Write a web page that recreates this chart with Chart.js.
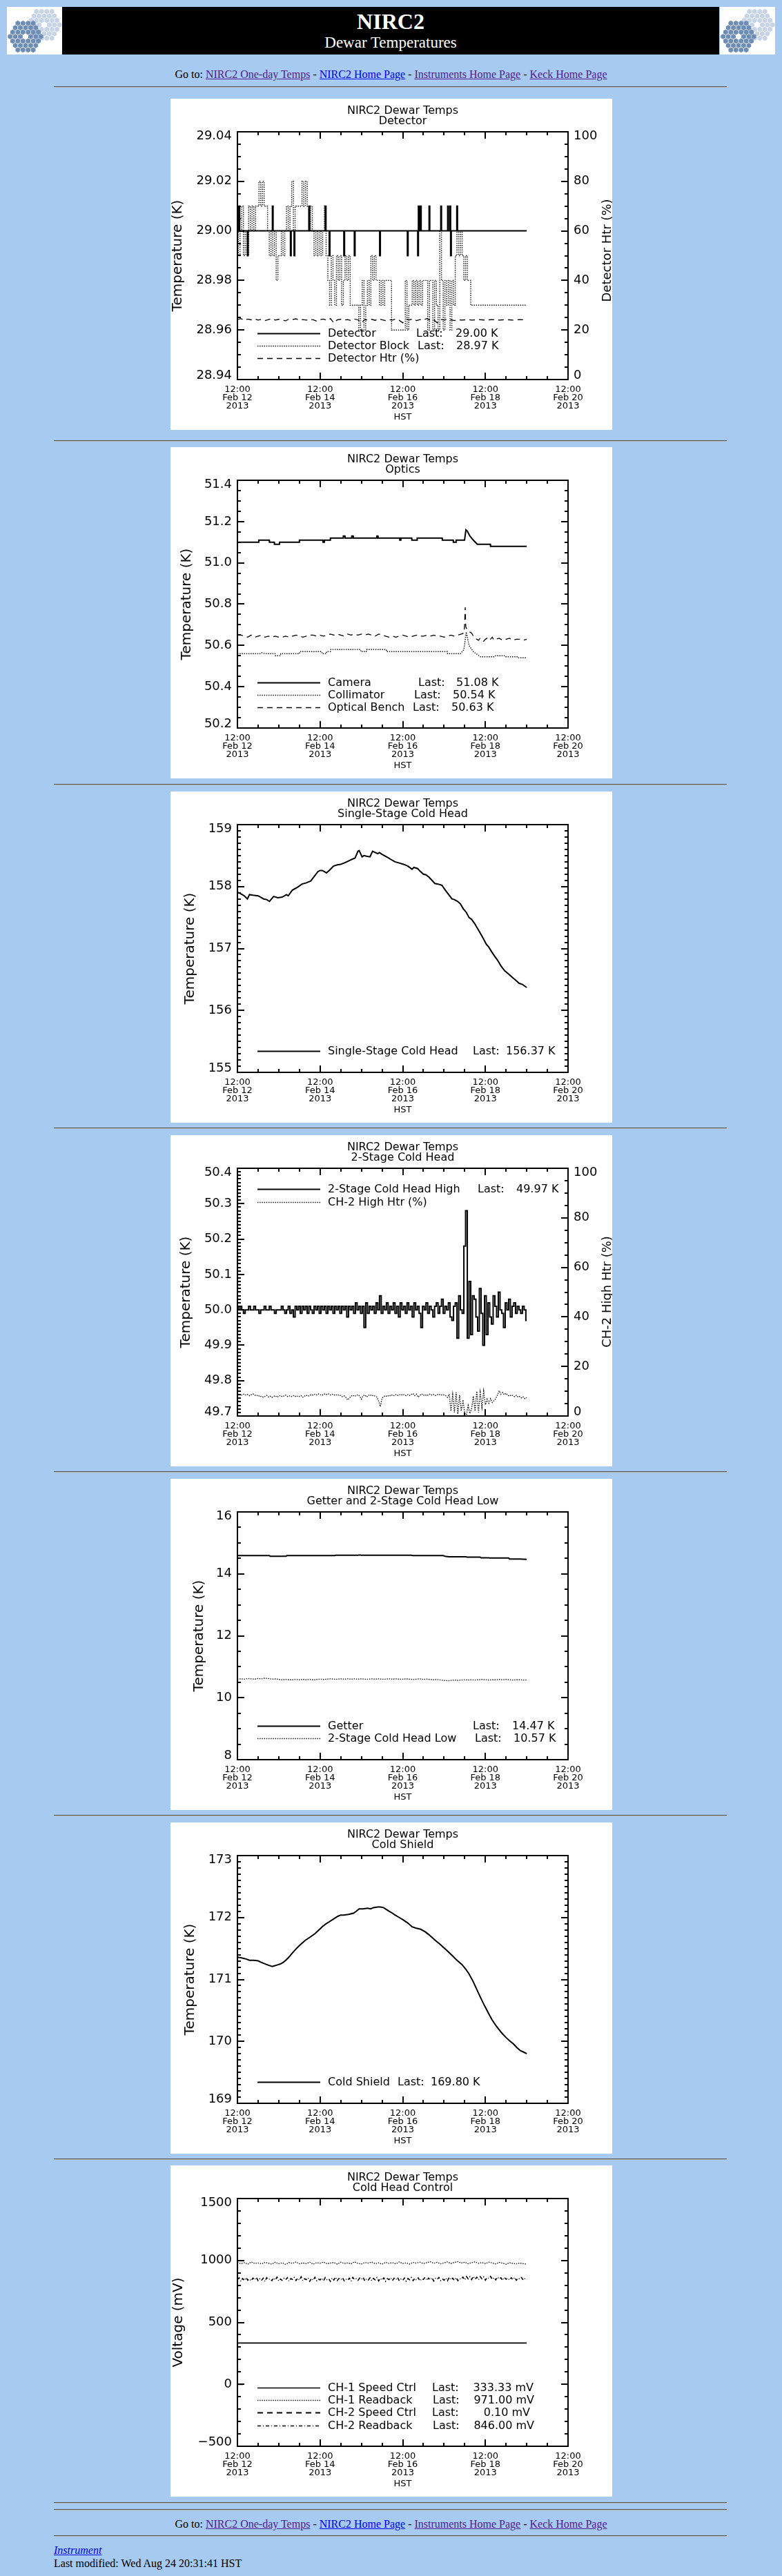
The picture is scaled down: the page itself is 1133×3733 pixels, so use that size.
<!DOCTYPE html>
<html>
<head>
<meta charset="utf-8">
<title>NIRC2 Dewar Temperatures</title>
<script src="https://cdn.jsdelivr.net/npm/chart.js@4.4.1/dist/chart.umd.min.js"></script>
<style>
  html, body { margin:0; padding:0; }
  body { background:#A6CAF0; width:1133px; height:3733px; position:relative; overflow:hidden; font-family:'Liberation Serif','Times New Roman',serif; color:#000; }
  .abs { position:absolute; }
  .hr { position:absolute; left:78px; width:975px; height:0; border-top:1px solid #555; border-bottom:1px solid #b8b8b8; }
  .panel { position:absolute; left:247px; background:#fff; }
  .nav { position:absolute; left:0; width:1133px; text-align:center; font-size:16px; line-height:20px; }
  a { text-decoration:underline; }
  a.v { color:#551A8B; }
  a.n { color:#0000EE; }
</style>
</head>
<body>
<canvas id="logoL" class="abs" width="80" height="69" style="left:10px;top:10px"></canvas>
<div class="abs" style="left:90px;top:10px;width:952px;height:69px;background:#000;color:#fff;text-align:center">
  <div class="abs" style="left:0;width:952px;top:3px;font-size:32px;line-height:36px;font-weight:bold">NIRC2</div>
  <div class="abs" style="left:0;width:952px;top:39px;font-size:23px;line-height:26px">Dewar Temperatures</div>
</div>
<canvas id="logoR" class="abs" width="80" height="69" style="left:1043px;top:10px"></canvas>

<div class="nav" style="top:98px">Go to: <a class="v" href="#">NIRC2 One-day Temps</a> - <a class="n" href="#">NIRC2 Home Page</a> - <a class="v" href="#">Instruments Home Page</a> - <a class="v" href="#">Keck Home Page</a></div>
<div class="hr" style="top:125px"></div>

<canvas id="c1" class="panel" width="640" height="480" style="top:143px"></canvas>
<div class="hr" style="top:638px"></div>
<canvas id="c2" class="panel" width="640" height="480" style="top:648px"></canvas>
<div class="hr" style="top:1136px"></div>
<canvas id="c3" class="panel" width="640" height="480" style="top:1147px"></canvas>
<div class="hr" style="top:1634px"></div>
<canvas id="c4" class="panel" width="640" height="480" style="top:1645px"></canvas>
<div class="hr" style="top:2132px"></div>
<canvas id="c5" class="panel" width="640" height="480" style="top:2143px"></canvas>
<div class="hr" style="top:2630px"></div>
<canvas id="c6" class="panel" width="640" height="480" style="top:2641px"></canvas>
<div class="hr" style="top:3128px"></div>
<canvas id="c7" class="panel" width="640" height="480" style="top:3138px"></canvas>

<div class="hr" style="top:3626px"></div>
<div class="hr" style="top:3636px"></div>
<div class="nav" style="top:3648px">Go to: <a class="v" href="#">NIRC2 One-day Temps</a> - <a class="n" href="#">NIRC2 Home Page</a> - <a class="v" href="#">Instruments Home Page</a> - <a class="v" href="#">Keck Home Page</a></div>
<div class="hr" style="top:3674px"></div>
<div class="abs" style="left:78px;top:3686px;font-size:16px;line-height:20px;font-style:italic"><a class="n" href="#">Instrument</a></div>
<div class="abs" style="left:78px;top:3705px;font-size:16px;line-height:20px">Last modified: Wed Aug 24 20:31:41 HST</div>

<script>
// ---------------- shared axis text ----------------
const chartTitle = 'NIRC2 Dewar Temps';
const xAxisTitle = 'HST';
const xTickLabels = [
  ['12:00', 'Feb 12', '2013'],
  ['12:00', 'Feb 14', '2013'],
  ['12:00', 'Feb 16', '2013'],
  ['12:00', 'Feb 18', '2013'],
  ['12:00', 'Feb 20', '2013']
];
// x values are hours after 12:00 Feb 12 2013 (HST)

// ---------------- Chart 1: Detector ----------------
const detectorT = [0, 0.5, 0.8, 1.3, 5.8, 6.2, 20.3, 20.7, 30.8, 31.2, 32.9, 33.3, 41.5, 41.9, 51.0, 51.4, 53.3, 53.7, 61.8, 62.2, 67.9, 68.3, 82.6, 83.0, 98.7, 99.1, 104.7, 105.1, 105.5, 106.3, 106.7, 111.3, 111.7, 118.1, 118.5, 122.1, 122.5, 123.4, 123.8, 124.2, 127.4, 127.8, 168];
const detectorV = [29.01, 29.00, 29.01, 29.00, 28.99, 29.00, 29.01, 29.00, 28.99, 29.00, 28.99, 29.00, 29.01, 29.00, 29.01, 29.00, 28.99, 29.00, 28.99, 29.00, 28.99, 29.00, 28.99, 29.00, 28.99, 29.00, 28.99, 29.01, 29.00, 29.01, 29.00, 29.01, 29.00, 29.01, 29.00, 29.01, 29.00, 29.01, 28.99, 29.00, 29.01, 29.00, 29.00];
// hourly, hour 0..168
const detectorBlock = [
  29.00, 28.99, 29.00, 29.01, 28.99, 29.00, 28.99, 29.01, 29.00, 29.01,
  29.00, 29.01, 29.01, 29.02, 29.01, 29.02, 29.01, 29.01, 29.00, 28.99,
  29.00, 28.99, 29.00, 28.98, 28.99, 28.99, 29.00, 28.99, 29.00, 29.01,
  29.00, 29.01, 29.02, 29.00, 29.01, 29.01, 29.01, 29.01, 29.02, 29.01,
  29.02, 29.01, 29.00, 29.01, 29.00, 28.99, 29.00, 28.99, 29.00, 28.99,
  29.00, 29.01, 28.99, 28.98, 28.97, 28.99, 28.98, 28.97, 28.99, 28.98,
  28.99, 28.97, 28.98, 28.99, 28.98, 28.99, 28.97, 28.97, 28.97, 28.97,
  28.97, 28.96, 28.97, 28.98, 28.96, 28.97, 28.98, 28.97, 28.99, 28.98,
  28.99, 28.98, 28.98, 28.97, 28.98, 28.97, 28.98, 28.98, 28.98, 28.98,
  28.96, 28.96, 28.96, 28.96, 28.96, 28.96, 28.96, 28.96, 28.98, 28.96,
  28.97, 28.97, 28.98, 28.97, 28.98, 28.97, 28.98, 28.97, 28.98, 28.98,
  28.98, 28.96, 28.98, 28.98, 28.96, 28.98, 28.97, 28.96, 29.00, 28.98,
  28.96, 28.98, 28.97, 28.98, 28.96, 28.98, 28.97, 28.99, 29.00, 28.99,
  29.00, 28.99, 28.98, 28.99, 28.98, 28.98, 28.97, 28.97, 28.97, 28.97,
  28.97, 28.97, 28.97, 28.97, 28.97, 28.97, 28.97, 28.97, 28.97, 28.97,
  28.97, 28.97, 28.97, 28.97, 28.97, 28.97, 28.97, 28.97, 28.97, 28.97,
  28.97, 28.97, 28.97, 28.97, 28.97, 28.97, 28.97, 28.97, 28.97
];
// every 2 hours, hour 0..168 (percent)
const detectorHtr = [
  24.2, 24.6, 23.9, 24.4, 24.1, 24.5, 24.0, 24.3, 23.8, 24.2,
  24.6, 24.0, 24.3, 24.1, 23.7, 24.4, 24.2, 24.5, 23.9, 24.2,
  24.0, 24.3, 24.1, 23.6, 24.2, 24.4, 23.9, 24.6, 22.8, 24.1,
  24.3, 24.0, 24.2, 23.8, 24.4, 24.1, 22.9, 24.2, 24.0, 24.3,
  23.9, 24.5, 24.1, 23.8, 24.2, 24.0, 24.4, 23.9, 22.9, 24.3,
  24.1, 24.5, 23.8, 24.2, 24.0, 24.6, 23.9, 24.1, 22.9, 24.3,
  24.0, 24.4, 24.1, 23.8, 24.2, 24.0, 24.1, 24.2, 24.0, 24.1,
  24.2, 24.1, 24.0, 24.1, 24.2, 24.1, 24.0, 24.1, 24.2, 24.1,
  24.0, 24.1, 24.2, 24.1, 24.1
];
const detectorLast = ['29.00 K', '28.97 K'];

// ---------------- Chart 2: Optics ----------------
const camera = [[0,51.10],[12.3,51.10],[12.4,51.11],[18.5,51.11],[18.6,51.10],[21.4,51.10],[21.5,51.09],[24.4,51.09],[24.5,51.10],[35.9,51.10],[36,51.11],[49.6,51.11],[49.7,51.10],[50.4,51.10],[50.5,51.11],[53.9,51.11],[54,51.12],[61.4,51.12],[61.5,51.13],[62.4,51.13],[62.5,51.12],[66.3,51.12],[66.4,51.13],[67.2,51.13],[67.3,51.12],[80.9,51.12],[81,51.13],[81.6,51.13],[81.7,51.12],[94.2,51.12],[94.3,51.11],[94.8,51.11],[94.9,51.12],[101.2,51.12],[101.3,51.11],[104.3,51.11],[104.4,51.12],[118.9,51.12],[119,51.11],[125.3,51.11],[125.4,51.10],[126.9,51.10],[127,51.11],[131.9,51.11],[132.7,51.16],[133.4,51.155],[135,51.13],[137,51.11],[139.3,51.09],[146.9,51.09],[147,51.08],[168,51.08]];
const collimator = [[0,50.56],[13,50.56],[14,50.565],[16,50.56],[21.8,50.56],[22,50.55],[25,50.55],[25.2,50.56],[36,50.56],[36.2,50.57],[49,50.57],[49.2,50.56],[51.6,50.56],[51.8,50.57],[54,50.57],[54.2,50.58],[71.5,50.58],[71.7,50.57],[74.8,50.57],[75,50.58],[86.4,50.58],[86.6,50.57],[121.9,50.57],[122,50.56],[129.6,50.56],[131.5,50.58],[132.9,50.665],[134.5,50.60],[137,50.57],[140.3,50.55],[141.2,50.545],[149.4,50.545],[150,50.55],[155,50.55],[155.5,50.545],[162.7,50.545],[163,50.54],[168,50.54]];
const opticalBench = [[0,50.65],[2,50.65],[4,50.645],[6,50.64],[8,50.65],[10,50.64],[12,50.645],[14,50.65],[16,50.64],[18,50.645],[20,50.64],[22,50.645],[24,50.64],[26,50.64],[28,50.645],[30,50.64],[32,50.645],[34,50.65],[36,50.645],[38,50.64],[40,50.645],[42,50.65],[44,50.65],[46,50.645],[48,50.65],[50,50.645],[52,50.65],[54,50.655],[56,50.65],[58,50.655],[60,50.65],[62,50.645],[64,50.655],[66,50.65],[68,50.655],[70,50.65],[72,50.655],[74,50.65],[76,50.655],[78,50.65],[80,50.645],[82,50.655],[84,50.65],[86,50.645],[88,50.64],[90,50.645],[92,50.64],[94,50.645],[96,50.65],[98,50.645],[100,50.64],[102,50.645],[104,50.65],[106,50.645],[108,50.645],[110,50.65],[112,50.645],[114,50.65],[116,50.645],[118,50.645],[120,50.64],[122,50.645],[124,50.65],[126,50.645],[128,50.65],[130,50.655],[131.6,50.66],[131.9,50.70],[132.3,50.785],[132.6,50.69],[133.2,50.68],[134,50.675],[135,50.665],[136,50.66],[137,50.645],[138,50.635],[139,50.63],[140,50.625],[141,50.635],[142,50.63],[143,50.62],[144,50.63],[145,50.635],[146,50.625],[147,50.63],[148,50.64],[149,50.625],[150,50.63],[152,50.635],[154,50.625],[156,50.63],[158,50.635],[160,50.625],[162,50.63],[164,50.63],[166,50.625],[168,50.63]];
const opticsLast = ['51.08 K', '50.54 K', '50.63 K'];

// ---------------- Chart 3: Single-Stage Cold Head ----------------
const singleStage = [[0,157.91],[1.5,157.89],[2.8,157.87],[4,157.85],[5.8,157.80],[7,157.87],[9,157.86],[12,157.85],[14,157.82],[15.2,157.80],[17,157.79],[18.6,157.76],[19.8,157.80],[21,157.84],[23.5,157.82],[26,157.83],[28.5,157.87],[29.5,157.85],[31.8,157.94],[35,157.99],[37.5,158.04],[40,158.06],[42.6,158.09],[44.5,158.16],[46.7,158.24],[48,158.26],[49.2,158.26],[50.5,158.24],[51.7,158.22],[53.3,158.26],[55.8,158.33],[58,158.35],[60,158.36],[62,158.38],[65,158.42],[66.5,158.44],[68.3,158.46],[70,158.57],[70.7,158.58],[72.4,158.48],[73.5,158.50],[74.9,158.49],[77,158.48],[77.6,158.52],[78.5,158.57],[80,158.55],[81.5,158.53],[82.5,158.55],[84,158.52],[87.3,158.47],[89,158.44],[91.5,158.40],[94,158.38],[96.4,158.36],[99,158.33],[101.4,158.28],[102.5,158.31],[104.7,158.29],[106,158.25],[108,158.20],[109.5,158.19],[111.3,158.15],[113,158.10],[114.6,158.05],[116.5,158.04],[118.8,158.02],[120,157.97],[121.3,157.92],[123,157.86],[124.6,157.80],[126,157.79],[127.9,157.76],[129.5,157.72],[131.2,157.64],[133,157.58],[134.5,157.50],[136,157.47],[137.8,157.40],[139.5,157.32],[141.2,157.24],[143,157.15],[144.5,157.07],[146,157.02],[147.8,156.94],[149.5,156.87],[151.1,156.81],[153,156.72],[155.2,156.64],[157,156.60],[159.4,156.54],[161.5,156.49],[163.5,156.44],[165.5,156.42],[168,156.37]];
const singleStageLast = ['156.37 K'];

// ---------------- Chart 4: 2-Stage Cold Head ----------------
// hourly, hour 0..168
const twoStageHigh = [
  50.01, 50.00, 50.01, 50.00, 49.99, 50.00, 50.00, 50.01, 50.00, 50.00,
  50.01, 50.00, 50.00, 49.99, 50.00, 50.00, 50.01, 50.00, 50.00, 50.01,
  50.00, 50.00, 49.99, 50.00, 50.00, 50.00, 50.01, 50.00, 49.99, 50.00,
  50.01, 49.99, 50.00, 49.98, 50.01, 50.00, 50.01, 49.99, 50.01, 50.00,
  50.01, 49.99, 50.01, 50.00, 49.99, 50.01, 50.00, 50.01, 49.99, 50.01,
  50.00, 50.01, 49.99, 50.01, 50.00, 50.01, 49.99, 50.01, 50.00, 50.01,
  49.99, 50.01, 50.00, 50.01, 49.98, 50.01, 50.00, 50.01, 49.99, 50.02,
  50.00, 50.01, 49.99, 50.01, 49.95, 50.02, 49.99, 50.01, 50.00, 50.01,
  49.99, 50.02, 50.00, 50.04, 49.99, 50.01, 50.00, 50.02, 49.99, 50.01,
  50.00, 50.02, 49.99, 50.01, 49.98, 50.02, 50.00, 50.01, 49.99, 50.02,
  50.00, 50.01, 49.98, 50.02, 50.00, 50.01, 49.99, 49.95, 50.01, 50.00,
  50.02, 49.99, 50.01, 50.00, 49.98, 50.01, 50.02, 49.99, 50.01, 50.03,
  49.99, 50.01, 50.00, 50.02, 49.98, 49.97, 50.01, 50.02, 49.92, 50.04,
  50.00, 49.99, 50.18, 50.28, 49.92, 50.08, 49.93, 50.04, 50.03, 49.98,
  49.94, 50.06, 49.99, 49.90, 50.04, 49.93, 50.02, 49.98, 49.96, 50.04,
  50.01, 49.98, 50.05, 50.00, 49.99, 49.95, 50.02, 50.00, 50.03, 49.98,
  50.01, 50.02, 49.99, 50.01, 50.00, 49.99, 50.01, 50.00, 49.97
];
// hourly, hour 0..168 (percent)
const twoStageHighHtr = [
  8.5, 8.8, 8.3, 8.6, 8.9, 8.4, 8.7, 8.2, 8.6, 8.9,
  8.5, 8.1, 8.4, 7.8, 8.0, 7.6, 7.9, 8.3, 7.7, 8.0,
  7.5, 7.9, 8.2, 7.6, 8.0, 8.3, 7.8, 8.1, 8.4, 7.9,
  8.2, 7.8, 8.0, 8.3, 7.7, 8.1, 7.9, 8.2, 7.6, 8.0,
  8.4, 8.0, 8.3, 8.7, 8.4, 8.8, 8.5, 8.9, 8.6, 8.3,
  8.7, 9.0, 8.6, 8.9, 8.5, 8.8, 8.4, 8.7, 8.3, 8.6,
  8.2, 7.8, 8.1, 7.5, 6.5, 7.2, 8.0, 8.4, 7.9, 8.3,
  8.6, 8.0, 6.8, 8.2, 8.5, 7.7, 8.3, 8.6, 8.1, 8.4,
  8.0, 7.6, 6.0, 3.8, 7.2, 7.9, 8.2, 7.8, 8.4, 8.1,
  8.5, 8.2, 8.6, 8.3, 8.7, 8.4, 8.8, 8.5, 8.2, 8.6,
  8.3, 8.7, 9.1, 8.2, 8.8, 7.6, 8.4, 8.9, 8.3, 8.6,
  8.2, 8.5, 8.9, 8.4, 8.7, 8.3, 8.6, 8.8, 8.4, 8.6,
  8.5, 8.2, 7.5, 8.8, 2.0, 8.6, 1.5, 9.5, 0.8, 8.4,
  2.0, 6.5, 1.0, 0.5, 4.2, 1.0, 3.0, 8.0, 2.0, 10.0,
  1.5, 9.5, 3.5, 10.0, 4.5, 6.8, 5.2, 7.0, 5.5, 6.2,
  7.0, 8.5, 10.2, 8.8, 9.5, 8.6, 9.2, 8.4, 8.0, 8.5,
  8.2, 7.8, 8.3, 7.6, 7.9, 7.3, 7.7, 7.0, 7.4
];
const twoStageLast = ['49.97 K'];

// ---------------- Chart 5: Getter and 2-Stage Cold Head Low ----------------
const getter = [[0,14.59],[18.6,14.59],[19,14.57],[28.3,14.57],[28.7,14.59],[56.5,14.59],[57,14.60],[70,14.60],[70.5,14.61],[71.5,14.61],[72,14.60],[101.2,14.60],[101.6,14.59],[119.4,14.59],[121,14.56],[123,14.55],[132.8,14.55],[133.2,14.54],[141,14.54],[141.4,14.52],[146,14.52],[146.4,14.51],[157.5,14.51],[158,14.48],[164,14.48],[168,14.47]];
// every 2 hours, hour 0..168
const twoStageLow = [
  10.60, 10.61, 10.60, 10.62, 10.61, 10.60, 10.62, 10.61, 10.63, 10.62,
  10.60, 10.61, 10.59, 10.58, 10.59, 10.58, 10.58, 10.59, 10.58, 10.59,
  10.58, 10.59, 10.58, 10.59, 10.60, 10.59, 10.60, 10.61, 10.60, 10.60,
  10.61, 10.60, 10.61, 10.60, 10.61, 10.60, 10.61, 10.60, 10.60, 10.61,
  10.60, 10.61, 10.60, 10.60, 10.61, 10.60, 10.61, 10.60, 10.60, 10.61,
  10.60, 10.59, 10.60, 10.61, 10.59, 10.60, 10.59, 10.58, 10.59, 10.57,
  10.56, 10.55, 10.56, 10.57, 10.56, 10.57, 10.58, 10.57, 10.58, 10.57,
  10.58, 10.59, 10.58, 10.57, 10.58, 10.58, 10.59, 10.58, 10.59, 10.58,
  10.57, 10.58, 10.58, 10.57, 10.57
];
const getterLast = ['14.47 K', '10.57 K'];

// ---------------- Chart 6: Cold Shield ----------------
const coldShield = [[0,171.36],[2,171.35],[3.6,171.34],[5,171.33],[7,171.31],[9.5,171.31],[12,171.30],[13.5,171.28],[15.2,171.26],[18,171.23],[20.2,171.21],[21.5,171.22],[22.7,171.23],[25,171.25],[26.8,171.28],[28.5,171.32],[30.2,171.37],[32,171.43],[34.3,171.50],[36.5,171.56],[39.3,171.63],[42,171.68],[45.1,171.74],[47,171.79],[49.2,171.85],[51,171.89],[53.3,171.93],[56,171.98],[58.3,172.02],[60,172.04],[61.6,172.04],[64.5,172.05],[67.4,172.07],[69,172.10],[70.7,172.14],[73,172.14],[75.5,172.15],[77.4,172.14],[79,172.16],[81.5,172.17],[83,172.17],[84.8,172.16],[86.5,172.13],[88.2,172.10],[90,172.07],[91.5,172.04],[94,172.00],[96.4,171.96],[99,171.91],[101.4,171.85],[103.5,171.83],[106.4,171.81],[109,171.77],[111.3,171.72],[114.5,171.64],[118,171.56],[121.5,171.47],[124.6,171.39],[127.5,171.31],[130.4,171.24],[132.5,171.17],[134.5,171.09],[137,170.96],[139.5,170.81],[141.5,170.69],[143.6,170.57],[145.7,170.46],[147.8,170.35],[150,170.26],[151.9,170.19],[154,170.12],[156.1,170.06],[158,170.01],[160.2,169.96],[162.3,169.90],[164.3,169.85],[166,169.83],[168,169.80]];
const coldShieldLast = ['169.80 K'];

// ---------------- Chart 7: Cold Head Control (mV) ----------------
const ch1Speed = [[0,333.33],[168,333.33]];
// every 2 hours, hour 0..168
const ch1Readback = [
  985, 975, 982, 970, 988, 976, 980, 972, 984, 978,
  971, 986, 974, 981, 969, 983, 977, 988, 973, 980,
  975, 986, 970, 982, 978, 987, 973, 979, 984, 971,
  986, 976, 980, 974, 989, 977, 972, 983, 979, 987,
  974, 981, 970, 985, 977, 982, 973, 988, 976, 980,
  971, 984, 979, 986, 975, 982, 990, 977, 985, 973,
  981, 988, 976, 984, 991, 979, 986, 974, 982, 989,
  977, 983, 975, 986, 980, 972, 984, 978, 970, 982,
  976, 973, 979, 974, 971
];
const ch2Speed = [[0,0.10],[3.5,0.10]];
// hourly, hour 0..168
const ch2Readback = [
  846, 860, 832, 855, 838, 862, 841, 851, 835, 858,
  843, 864, 836, 852, 840, 857, 831, 861, 845, 853,
  837, 859, 842, 866, 834, 850, 839, 856, 844, 861,
  833, 854, 847, 863, 838, 857, 841, 868, 836, 852,
  845, 860, 832, 856, 840, 864, 837, 851, 843, 858,
  835, 862, 846, 853, 831, 859, 842, 866, 838, 855,
  844, 861, 836, 850, 840, 857, 833, 863, 845, 852,
  839, 858, 847, 864, 834, 851, 842, 860, 837, 855,
  843, 862, 835, 856, 841, 859, 832, 853, 846, 861,
  838, 857, 844, 863, 836, 850, 840, 858, 833, 854,
  845, 862, 837, 856, 842, 860, 835, 853, 847, 864,
  839, 858, 843, 861, 834, 855, 846, 863, 838, 852,
  841, 859, 836, 865, 844, 857, 840, 862, 837, 854,
  848, 866, 843, 870, 851, 868, 846, 872, 849, 865,
  844, 869, 852, 867, 841, 863, 855, 871, 847, 862,
  843, 866, 851, 860, 839, 864, 848, 858, 842, 861,
  845, 863, 840, 857, 849, 862, 841, 855, 846
];
const controlLast = ['333.33 mV', '971.00 mV', '0.10 mV', '846.00 mV'];

// ---------------- helpers ----------------
const FONT = "'DejaVu Sans', sans-serif";
const STYLE = {
  solid:   { borderWidth: 2,   borderDash: [] },
  dotted:  { borderWidth: 1.4, borderDash: [1.4, 1.8] },
  dashed:  { borderWidth: 1.3, borderDash: [8, 6] },
  dashdot: { borderWidth: 1.3, borderDash: [5, 3, 1, 3] }
};
function fromPairs(p) { return p.map(q => ({ x: q[0], y: q[1] })); }
function fromSeries(arr, stepHours) { return arr.map((v, i) => ({ x: i * stepHours, y: v })); }
function fromTV(t, v) { return t.map((tt, i) => ({ x: tt, y: v[i] })); }

function ds(label, data, style, extra) {
  return Object.assign({
    label, data, borderColor: '#000', backgroundColor: '#000',
    pointRadius: 0, tension: 0, fill: false, spanGaps: true
  }, STYLE[style], extra || {});
}

function edgeLabels(dec) {
  return function (v, i, ticks) {
    let s = Number(v).toFixed(dec).replace('-', '\u2212');
    if (i === ticks.length - 1) return ['', s];
    if (i === 0) return [s, ''];
    return s;
  };
}

// inward IDL-style tick marks + frame
const idlFrame = {
  id: 'idlFrame',
  afterDatasetsDraw(chart, args, o) {
    const { ctx, chartArea: a, scales } = chart;
    ctx.save();
    ctx.strokeStyle = '#000';
    ctx.lineWidth = 2;
    ctx.setLineDash([]);
    const line = (x1, y1, x2, y2) => { ctx.beginPath(); ctx.moveTo(x1, y1); ctx.lineTo(x2, y2); ctx.stroke(); };
    const walk = (scale, minor, major, fn) => {
      const n = Math.round((scale.max - scale.min) / minor);
      const per = Math.round(major / minor);
      for (let k = 0; k <= n; k++) {
        const p = Math.round(scale.getPixelForValue(scale.min + k * minor));
        fn(p, k % per === 0 ? 10 : 5);
      }
    };
    walk(scales.x, o.xMinor, o.xMajor, (p, len) => { line(p, a.bottom, p, a.bottom - len); line(p, a.top, p, a.top + len); });
    walk(scales.y, o.yMinor, o.yMajor, (p, len) => {
      line(a.left, p, a.left + len, p);
      if (!scales.y2) line(a.right, p, a.right - len, p);
    });
    if (scales.y2) walk(scales.y2, o.y2Minor, o.y2Major, (p, len) => { line(a.right, p, a.right - len, p); });
    ctx.strokeRect(Math.round(a.left), Math.round(a.top), Math.round(a.width), Math.round(a.height));
    ctx.restore();
  }
};

// IDL-style legend drawn inside the plot
const idlLegend = {
  id: 'idlLegend',
  afterDraw(chart, args, o) {
    if (!o.rows) return;
    const ctx = chart.ctx;
    ctx.save();
    ctx.font = '16px ' + FONT;
    ctx.fillStyle = '#000';
    ctx.strokeStyle = '#000';
    ctx.textBaseline = 'middle';
    o.rows.forEach((r, i) => {
      const y = Math.round(o.y0 + i * o.dy) + 0.5;
      const d = chart.data.datasets[r.ds];
      ctx.lineWidth = d.borderWidth;
      ctx.setLineDash(d.borderDash || []);
      ctx.beginPath(); ctx.moveTo(126, y); ctx.lineTo(217, y); ctx.stroke();
      ctx.setLineDash([]);
      ctx.textAlign = 'left';
      ctx.fillText(d.label, 228, y);
      if (r.last) {
        ctx.fillText('Last:', r.lastX, y);
        ctx.textAlign = o.valAlign || 'left';
        ctx.fillText(r.last, r.valX, y);
      }
    });
    ctx.restore();
  }
};

// right-hand axis title, rotated like the left one and cut by the image edge
const rightTitle = {
  id: 'rightTitle',
  afterDraw(chart, args, o) {
    if (!o.text) return;
    const ctx = chart.ctx;
    ctx.save();
    ctx.translate(o.x, o.y);
    ctx.rotate(-Math.PI / 2);
    ctx.font = '18px ' + FONT;
    ctx.fillStyle = '#000';
    ctx.textAlign = 'center';
    ctx.textBaseline = 'alphabetic';
    ctx.fillText(o.text, 0, 0);
    ctx.restore();
  }
};

function makeChart(id, c) {
  const scales = {
    x: {
      type: 'linear', position: 'bottom', min: 0, max: 192,
      grid: { display: false, drawTicks: false }, border: { display: false },
      ticks: {
        stepSize: 12, autoSkip: false, maxRotation: 0, minRotation: 0, padding: 9, color: '#000',
        font: { family: FONT, size: 13, lineHeight: '12px' },
        callback: v => (v % 48 === 0 ? xTickLabels[v / 48] : '')
      },
      title: { display: true, text: xAxisTitle, color: '#000', font: { family: FONT, size: 13, lineHeight: '13px' }, padding: { top: 0, bottom: 11.5 } },
      afterFit: s => { s.height = 73; }
    },
    y: {
      type: 'linear', position: 'left', min: c.y.min, max: c.y.max,
      grid: { display: false, drawTicks: false }, border: { display: false },
      ticks: { stepSize: c.y.step, padding: 8, color: '#000', font: { family: FONT, size: 18, lineHeight: '12px' }, callback: edgeLabels(c.y.dec) },
      title: { display: true, text: c.y.title, color: '#000', font: { family: FONT, size: 20, lineHeight: '20px' }, padding: { top: c.y.titleX - 10, bottom: 0 } },
      afterFit: s => { s.width = 97; }
    }
  };
  if (c.y2) {
    scales.y2 = {
      type: 'linear', position: 'right', min: c.y2.min, max: c.y2.max,
      grid: { display: false, drawTicks: false }, border: { display: false },
      ticks: { stepSize: c.y2.step, padding: 8, color: '#000', font: { family: FONT, size: 18, lineHeight: '12px' }, callback: edgeLabels(0) },
      title: { display: false, text: c.y2.title },
      afterFit: s => { s.width = 64; }
    };
  }
  return new Chart(document.getElementById(id), {
    type: 'line',
    data: { datasets: c.datasets },
    plugins: [idlFrame, idlLegend, rightTitle],
    options: {
      responsive: false, animation: false, parsing: false, normalized: true,
      events: [],
      layout: { padding: { left: 0, top: 0, bottom: 0, right: c.y2 ? 0 : 64 } },
      scales,
      plugins: {
        legend: { display: false },
        tooltip: { enabled: false },
        title: {
          display: true, fullSize: false, text: [chartTitle, c.subtitle], color: '#000',
          font: { family: FONT, size: 16, weight: 'normal', lineHeight: '15px' },
          padding: { top: 10, bottom: 8 }
        },
        idlFrame: { xMinor: 12, xMajor: 48, yMinor: c.y.minor, yMajor: c.y.step, y2Minor: c.y2 ? c.y2.minor : 0, y2Major: c.y2 ? c.y2.step : 0 },
        idlLegend: c.legend,
        rightTitle: c.y2 ? { text: c.y2.title, x: 638, y: c.y2.titleY } : {}
      }
    }
  });
}

Chart.defaults.font.family = FONT;
Chart.defaults.color = '#000';

// 1 Detector
makeChart('c1', {
  subtitle: 'Detector',
  y: { min: 28.94, max: 29.04, step: 0.02, minor: 0.005, dec: 2, title: 'Temperature (K)', titleX: 11 },
  y2: { min: 0, max: 100, step: 20, minor: 5, title: 'Detector Htr (%)', titleY: 220 },
  datasets: [
    ds('Detector', fromTV(detectorT, detectorV), 'solid', { stepped: 'before' }),
    ds('Detector Block', fromSeries(detectorBlock, 1), 'dotted', { stepped: 'middle' }),
    ds('Detector Htr (%)', fromSeries(detectorHtr, 2), 'dashed', { yAxisID: 'y2' })
  ],
  legend: { y0: 340, dy: 18.2, rows: [
    { ds: 0, last: detectorLast[0], lastX: 356, valX: 413 },
    { ds: 1, last: detectorLast[1], lastX: 358, valX: 414 },
    { ds: 2 }
  ] }
});

// 2 Optics
makeChart('c2', {
  subtitle: 'Optics',
  y: { min: 50.2, max: 51.4, step: 0.2, minor: 0.05, dec: 1, title: 'Temperature (K)', titleX: 24 },
  datasets: [
    ds('Camera', fromPairs(camera), 'solid'),
    ds('Collimator', fromPairs(collimator), 'dotted'),
    ds('Optical Bench', fromPairs(opticalBench), 'dashed')
  ],
  legend: { y0: 340.5, dy: 18.2, rows: [
    { ds: 0, last: opticsLast[0], lastX: 359, valX: 414 },
    { ds: 1, last: opticsLast[1], lastX: 353, valX: 409 },
    { ds: 2, last: opticsLast[2], lastX: 351, valX: 407 }
  ] }
});

// 3 Single-Stage Cold Head
makeChart('c3', {
  subtitle: 'Single-Stage Cold Head',
  y: { min: 155, max: 159, step: 1, minor: 0.1, dec: 0, title: 'Temperature (K)', titleX: 29 },
  datasets: [ ds('Single-Stage Cold Head', fromPairs(singleStage), 'solid') ],
  legend: { y0: 376, dy: 18.2, rows: [ { ds: 0, last: singleStageLast[0], lastX: 438, valX: 486 } ] }
});

// 4 2-Stage Cold Head
makeChart('c4', {
  subtitle: '2-Stage Cold Head',
  y: { min: 49.7, max: 50.4, step: 0.1, minor: 0.01, dec: 1, title: 'Temperature (K)', titleX: 23 },
  y2: { min: 0, max: 100, step: 20, minor: 5, title: 'CH-2 High Htr (%)', titleY: 227 },
  datasets: [
    ds('2-Stage Cold Head High', fromSeries(twoStageHigh, 1), 'solid', { stepped: 'middle' }),
    ds('CH-2 High Htr (%)', fromSeries(twoStageHighHtr, 1), 'dotted', { yAxisID: 'y2' })
  ],
  legend: { y0: 78, dy: 18.5, rows: [
    { ds: 0, last: twoStageLast[0], lastX: 445, valX: 501 },
    { ds: 1 }
  ] }
});

// 5 Getter and 2-Stage Cold Head Low
makeChart('c5', {
  subtitle: 'Getter and 2-Stage Cold Head Low',
  y: { min: 8, max: 16, step: 2, minor: 0.5, dec: 0, title: 'Temperature (K)', titleX: 42 },
  datasets: [
    ds('Getter', fromPairs(getter), 'solid'),
    ds('2-Stage Cold Head Low', fromSeries(twoStageLow, 2), 'dotted')
  ],
  legend: { y0: 357.5, dy: 18.5, rows: [
    { ds: 0, last: getterLast[0], lastX: 438, valX: 495 },
    { ds: 1, last: getterLast[1], lastX: 441, valX: 497 }
  ] }
});

// 6 Cold Shield
makeChart('c6', {
  subtitle: 'Cold Shield',
  y: { min: 169, max: 173, step: 1, minor: 0.1, dec: 0, title: 'Temperature (K)', titleX: 29 },
  datasets: [ ds('Cold Shield', fromPairs(coldShield), 'solid') ],
  legend: { y0: 376, dy: 18.2, rows: [ { ds: 0, last: coldShieldLast[0], lastX: 329, valX: 377 } ] }
});

// 7 Cold Head Control
makeChart('c7', {
  subtitle: 'Cold Head Control',
  y: { min: -500, max: 1500, step: 500, minor: 100, dec: 0, title: 'Voltage (mV)', titleX: 12 },
  datasets: [
    ds('CH-1 Speed Ctrl', fromPairs(ch1Speed), 'solid', { borderWidth: 1.6 }),
    ds('CH-1 Readback', fromSeries(ch1Readback, 2), 'dotted'),
    ds('CH-2 Speed Ctrl', fromPairs(ch2Speed), 'dashed', { borderWidth: 2 }),
    ds('CH-2 Readback', fromSeries(ch2Readback, 1), 'dashdot', { borderWidth: 1.6 })
  ],
  legend: { y0: 322, dy: 18.2, valAlign: 'right', rows: [
    { ds: 0, last: controlLast[0], lastX: 379, valX: 526 },
    { ds: 1, last: controlLast[1], lastX: 380, valX: 527 },
    { ds: 2, last: controlLast[2], lastX: 379, valX: 521 },
    { ds: 3, last: controlLast[3], lastX: 380, valX: 527 }
  ] }
});

// ---------------- Keck mirror logos (decoration) ----------------
function drawLogo(cv) {
  const g = cv.getContext('2d');
  g.fillStyle = '#fff';
  g.fillRect(0, 0, cv.width, cv.height);
  const s = 4.3, r3 = Math.sqrt(3);
  function hex(cx, cy, col) {
    g.beginPath();
    for (let k = 0; k < 6; k++) {
      const a = Math.PI / 180 * (60 * k - 30);
      g.lineTo(cx + s * 0.9 * Math.cos(a), cy + s * 0.9 * Math.sin(a));
    }
    g.closePath(); g.fillStyle = col; g.fill();
  }
  function mirror(cx, cy, col) {
    for (let q = -3; q <= 3; q++) for (let r = -3; r <= 3; r++) {
      if (Math.abs(q + r) > 3 || (q === 0 && r === 0)) continue;
      hex(cx + s * r3 * (q + r / 2), cy + s * 1.5 * r, col);
    }
  }
  mirror(54, 26, '#c6d4e6');
  mirror(27, 43, '#6d8db4');
}
drawLogo(document.getElementById('logoL'));
drawLogo(document.getElementById('logoR'));
</script>
</body>
</html>
